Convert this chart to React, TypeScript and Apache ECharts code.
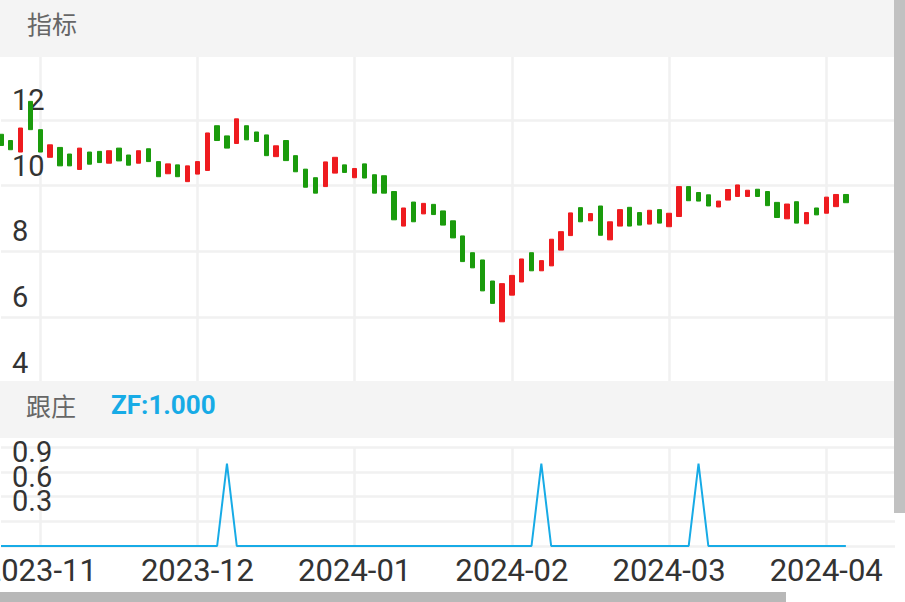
import React, { useEffect, useRef } from "react";
import * as echarts from "echarts";

// Candles (open / close); 16 candles per month gridline
const openPrices = [
  11.56, 11.37, 11.02, 12.56, 11.7, 10.86, 11.16, 10.96, 10.49, 11.02,
  11.04, 10.68, 11.14, 10.93, 10.68, 11.12, 10.73, 10.36, 10.63, 10.12,
  10.35, 10.46, 11.82, 11.51, 11.28, 11.82, 11.63, 11.54, 10.88, 11.37,
  10.91, 10.5, 10.24, 9.97, 10.38, 10.63, 10.24, 10.66, 10.33, 10.3,
  9.82, 8.77, 9.5, 9.14, 9.43, 9.23, 8.93, 8.47, 7.96, 7.74,
  7.1, 5.86, 6.67, 7.07, 7.96, 7.41, 7.56, 8.04, 8.48, 9.33,
  8.93, 9.38, 8.35, 8.77, 9.34, 9.18, 8.83, 9.27, 8.75, 9.06,
  9.97, 9.79, 9.72, 9.35, 9.56, 9.67, 9.67, 9.89, 9.82, 9.49,
  8.99, 9.51, 8.84, 9.32, 9.16, 9.36, 9.73,
];
const closePrices = [
  11.22, 11.09, 11.75, 11.7, 11.02, 11.24, 10.6, 10.6, 11.14, 10.65,
  10.7, 11.06, 10.75, 10.62, 11.06, 10.73, 10.27, 10.66, 10.27, 10.6,
  10.73, 11.6, 11.37, 11.14, 12.03, 11.39, 11.34, 10.91, 11.21, 10.76,
  10.42, 9.95, 9.77, 10.72, 10.86, 10.4, 10.52, 10.23, 9.77, 9.77,
  8.96, 9.32, 8.9, 9.46, 9.12, 8.8, 8.41, 7.69, 7.5, 6.8,
  6.42, 7.02, 7.27, 7.77, 7.41, 7.72, 8.37, 8.6, 9.17, 8.9,
  9.15, 8.49, 8.9, 9.27, 8.77, 8.8, 9.25, 8.86, 9.16, 9.97,
  9.54, 9.53, 9.38, 9.53, 9.88, 10.02, 9.86, 9.67, 9.39, 9.03,
  9.44, 8.86, 9.18, 9.11, 9.65, 9.73, 9.48,
];
// 跟庄 ZF values
const zfValues = [
  0, 0, 0, 0, 0, 0, 0, 0, 0, 0,
  0, 0, 0, 0, 0, 0, 0, 0, 0, 0,
  0, 0, 0, 1, 0, 0, 0, 0, 0, 0,
  0, 0, 0, 0, 0, 0, 0, 0, 0, 0,
  0, 0, 0, 0, 0, 0, 0, 0, 0, 0,
  0, 0, 0, 0, 0, 1, 0, 0, 0, 0,
  0, 0, 0, 0, 0, 0, 0, 0, 0, 0,
  0, 1, 0, 0, 0, 0, 0, 0, 0, 0,
  0, 0, 0, 0, 0, 0, 0,
];
const monthLabels = ["2023-11", "2023-12", "2024-01", "2024-02", "2024-03", "2024-04"];
const firstMonthIndex = 4;
const monthStep = 16;
const padCount = 5;

const RED = "#ee1b1f";
const GREEN = "#1a9b0c";
const GRID = "#f1f1f1";
const BLUE = "#17abe6";

export default function App() {
  const ref = useRef<HTMLDivElement>(null);
  useEffect(() => {
    if (!ref.current) return;
    const chart = echarts.init(ref.current, undefined, { renderer: "svg" });
    const total = openPrices.length + padCount;
    const categories: string[] = [];
    for (let i = 0; i < total; i++) categories.push(String(i));
    const candleData = openPrices.map((o, i) => {
      const c = closePrices[i];
      return [o, c, Math.min(o, c), Math.max(o, c)];
    });
    const isMonth = (index: number) =>
      index >= firstMonthIndex && (index - firstMonthIndex) % monthStep === 0;

    const xBase = {
      type: "category",
      data: categories,
      boundaryGap: false,
      axisLine: { show: false },
      axisTick: { show: false },
      splitLine: { show: true, interval: (i: number) => isMonth(i), lineStyle: { color: GRID, width: 2.5 } },
    };
    const yLabelBase = {
      inside: true,
      margin: 11,
      color: "#333",
      fontSize: 29,
      fontFamily: "Roboto",
      verticalAlign: "bottom",
      lineHeight: 40,
      align: "left",
    };
    const font = "Noto Sans CJK SC";
    chart.setOption({
      animation: false,
      backgroundColor: "#fff",
      grid: [
        { left: 1, right: 10, top: 54, height: 329, outerBoundsMode: "none", containLabel: false },
        { left: 1, right: 10, top: 447, height: 99, outerBoundsMode: "none", containLabel: false },
      ],
      xAxis: [
        { ...xBase, gridIndex: 0, axisLabel: { show: false } },
        {
          ...xBase,
          gridIndex: 1,
          axisLabel: {
            show: true,
            interval: (i: number) => isMonth(i),
            formatter: (_v: string, i: number) => monthLabels[(i - firstMonthIndex) / monthStep] ?? "",
            color: "#333",
            fontSize: 31,
            fontFamily: "Roboto",
            margin: 9,
          },
        },
      ],
      yAxis: [
        {
          type: "value",
          gridIndex: 0,
          min: 4,
          max: 14,
          interval: 2,
          axisLine: { show: false },
          axisTick: { show: false },
          splitLine: { show: true, lineStyle: { color: GRID, width: 2.5 } },
          axisLabel: { ...yLabelBase, showMaxLabel: false },
        },
        {
          type: "value",
          gridIndex: 1,
          min: 0,
          max: 1.2,
          interval: 0.3,
          axisLine: { show: false },
          axisTick: { show: false },
          splitLine: { show: true, lineStyle: { color: GRID, width: 2.5 } },
          axisLabel: { ...yLabelBase, showMaxLabel: false, showMinLabel: false, formatter: (v: number) => v.toFixed(1) },
        },
      ],
      series: [
        {
          type: "candlestick",
          xAxisIndex: 0,
          yAxisIndex: 0,
          data: candleData,
          barWidth: 4.8,
          itemStyle: {
            color: RED,
            color0: GREEN,
            borderColor: RED,
            borderColor0: GREEN,
            borderWidth: 1,
          },
        },
        {
          type: "line",
          xAxisIndex: 1,
          yAxisIndex: 1,
          data: zfValues,
          symbol: "none",
          lineStyle: { color: BLUE, width: 2 },
        },
      ],
      graphic: [
        { type: "rect", z: 100, shape: { x: 0, y: 0, width: 905, height: 57 }, style: { fill: "#f4f4f4" } },
        { type: "rect", z: 100, shape: { x: 0, y: 381, width: 905, height: 57 }, style: { fill: "#f4f4f4" } },
        {
          type: "text", z: 101, x: 27, y: 23,
          style: { text: "指标", fill: "#666", fontSize: 25, fontFamily: font, align: "left", verticalAlign: "middle" },
        },
        {
          type: "text", z: 101, x: 26, y: 405,
          style: { text: "跟庄", fill: "#666", fontSize: 25, fontFamily: font, align: "left", verticalAlign: "middle" },
        },
        {
          type: "text", z: 101, x: 111, y: 405,
          style: { text: "ZF:1.000", fill: BLUE, fontSize: 26, fontWeight: "bold", fontFamily: "Roboto", align: "left", verticalAlign: "middle" },
        },
        { type: "rect", z: 102, shape: { x: 894, y: 0, width: 11, height: 513 }, style: { fill: "#c1c1c1" } },
        { type: "rect", z: 102, shape: { x: 0, y: 592, width: 786, height: 10 }, style: { fill: "#b8b8b8" } },
      ],
    });
    return () => chart.dispose();
  }, []);
  return <div ref={ref} style={{ position: "absolute", left: 0, top: 0, width: 905, height: 602 }} />;
}
